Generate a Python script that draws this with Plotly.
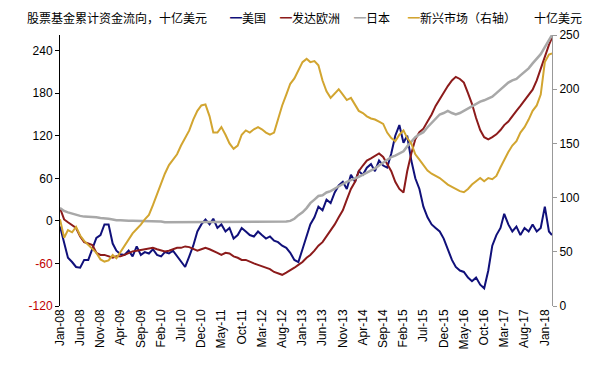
import pandas as pd
import plotly.graph_objects as go

# ---- data, monthly Jan-2008 .. Feb-2018 plus final point ----
month_starts = list(pd.date_range("2008-01-01", periods=122, freq="MS").strftime("%Y-%m-%d"))
dates = month_starts + ["2018-02-24"]

us = [-8, -30, -52, -58, -65, -66, -55, -55, -40, -24, -20, -5, -5, -32, -42, -47, -48, -42, -50, -36,
      -48, -44, -46, -40, -48, -50, -44, -46, -42, -50, -58, -65, -50, -35, -15, -5, 2, -5, 3, -10,
      -5, -15, -10, -25, -20, -10, -15, -20, -22, -15, -20, -25, -22, -28, -30, -35, -38, -45, -55, -58,
      -40, -20, -5, 5, 20, 15, 30, 25, 40, 50, 55, 45, 65, 55, 70, 65, 75, 80, 70, 85,
      78, 75, 95, 120, 135, 110, 120, 85, 60, 45, 20, 5, -5, -10, -15, -25, -40, -55, -65, -70,
      -72, -80, -85, -80, -90, -95, -70, -35, -20, -10, 10, -5, -15, -8, -20, -10, -15, -5, -15, -10,
      20, -15, -20]

europe = [18, 2, -2, -6, -10, -22, -30, -32, -34, -45, -48, -48, -50, -52, -50, -50, -48, -45, -43, -42,
          -41, -40, -38, -38, -40, -42, -43, -42, -40, -38, -38, -36, -37, -40, -42, -40, -38, -40, -42, -45,
          -48, -45, -46, -50, -52, -55, -55, -58, -60, -62, -64, -66, -68, -72, -74, -76, -73, -70, -66, -62,
          -58, -52, -48, -42, -35, -30, -22, -15, -5, 5, 15, 30, 45, 55, 70, 78, 85, 88, 92, 95,
          90, 80, 70, 55, 45, 40, 70, 95, 115, 125, 130, 140, 150, 162, 172, 182, 190, 198, 203, 200,
          195, 180, 165, 145, 128, 118, 115, 118, 122, 128, 135, 140, 148, 155, 162, 170, 178, 185, 198, 215,
          232, 248, 258]

japan = [18, 14, 12, 10, 8, 7, 6, 6, 5, 5, 4, 4, 3, 2, 1, 1, 0, 0, 0, 0,
         -1, -1, -1, -1, -1, -1, -2, -2, -2, -2, -2, -2, -2, -2, -1, -1, -1, -1, -1, -1,
         -1, -1, -2, -2, -2, -2, -2, -2, -2, -2, -2, -2, -2, -2, -2, -2, -1, 0, 3, 8,
         12, 18, 25, 30, 35, 36, 40, 42, 45, 48, 52, 55, 58, 60, 62, 65, 68, 70, 74, 78,
         82, 86, 90, 92, 95, 98, 105, 112, 118, 122, 125, 132, 138, 145, 150, 152, 155, 152, 150, 152,
         155, 158, 162, 165, 168, 170, 172, 175, 180, 185, 190, 195, 198, 200, 205, 210, 215, 222, 228, 235,
         245, 255, 262]

emerging = [80, 63, 70, 68, 73, 65, 60, 56, 52, 49, 43, 41, 42, 47, 44, 50, 55, 61, 67, 71,
            75, 80, 84, 93, 103, 112, 122, 130, 135, 140, 148, 155, 162, 172, 180, 185, 186, 175, 160, 160,
            165, 158, 150, 145, 148, 158, 162, 160, 163, 165, 163, 160, 158, 160, 172, 185, 195, 205, 210, 218,
            225, 228, 225, 226, 222, 208, 198, 192, 196, 200, 195, 190, 192, 185, 180, 178, 175, 173, 172, 170,
            168, 160, 155, 152, 158, 162, 155, 150, 140, 135, 130, 125, 122, 120, 118, 115, 112, 110, 108, 106,
            105, 108, 112, 115, 118, 115, 118, 117, 120, 128, 135, 142, 148, 152, 160, 165, 172, 180, 185, 195,
            225, 232, 233]

left_ticks = [-120, -60, 0, 60, 120, 180, 240]
right_ticks = [0, 50, 100, 150, 200, 250]

series_names = ["美国", "发达欧洲", "日本", "新兴市场（右轴）"]
colors = ["#10107A", "#8C1B1B", "#A8A8A8", "#D2A530"]

FONT = "Liberation Sans, Arial, sans-serif"
CJK = "Noto Sans CJK SC, sans-serif"

fig = go.Figure()
for name, vals, col, yax, w in [
    (series_names[0], us, colors[0], "y", 2),
    (series_names[1], europe, colors[1], "y", 2),
    (series_names[2], japan, colors[2], "y", 2.5),
    (series_names[3], emerging, colors[3], "y2", 2),
]:
    fig.add_trace(go.Scatter(x=dates, y=vals, name=name, mode="lines", yaxis=yax,
                             line=dict(color=col, width=w), showlegend=False))

left_text = [f"<span style='color:#C00000'>{v}</span>" if v < 0 else str(v) for v in left_ticks]

# the page body adds an 8px offset, so the figure is 8px smaller and margins shifted
fig.update_layout(
    width=601, height=358,
    margin=dict(l=52, r=57, t=27, b=60),
    paper_bgcolor="white", plot_bgcolor="white",
    font=dict(family=FONT, size=12, color="black"),
    xaxis=dict(type="date", range=["2008-01-01", "2018-02-24"], tick0="2008-01-01", dtick="M5",
               tickformat="%b-%y", tickangle=-90, showgrid=False, zeroline=False,
               showline=False, ticks="", tickfont=dict(family=FONT, size=12)),
    yaxis=dict(range=[-120, 262], tickvals=left_ticks, ticktext=left_text, showgrid=False,
               zeroline=False, showline=True, linecolor="black", linewidth=1,
               ticks="outside", ticklen=4, tickcolor="black", tickfont=dict(family=FONT, size=12)),
    yaxis2=dict(range=[0, 250], tickvals=right_ticks, overlaying="y", side="right", showgrid=False,
                zeroline=False, showline=True, linecolor="#999999", linewidth=1,
                ticks="outside", ticklen=4, tickcolor="#999999", tickfont=dict(family=FONT, size=12)),
)

# title and legend row (as text)
fig.add_annotation(text="股票基金累计资金流向，十亿美元", xref="paper", yref="paper",
                   x=-0.071, y=1.066, xanchor="left", yanchor="middle", showarrow=False,
                   font=dict(family=CJK, size=12, color="black"))
leg_x = [0.341, 0.443, 0.593, 0.703]
for name, col, lx in zip(series_names, colors, leg_x):
    fig.add_annotation(text=f"<span style='color:{col}'>━</span>{name}", xref="paper", yref="paper",
                       x=lx, y=1.066, xanchor="left", yanchor="middle", showarrow=False,
                       font=dict(family=CJK, size=12, color="black"))
fig.add_annotation(text="十亿美元", xref="paper", yref="paper", x=0.959, y=1.066,
                   xanchor="left", yanchor="middle", showarrow=False,
                   font=dict(family=CJK, size=12, color="black"))

fig.write_html("out.html")
